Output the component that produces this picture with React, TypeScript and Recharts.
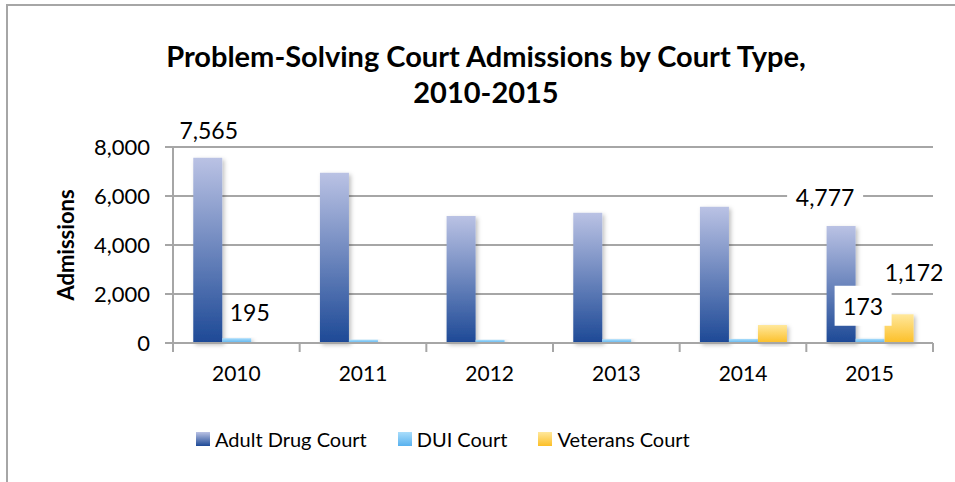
import React from 'react';
import { BarChart, Bar, XAxis, YAxis, CartesianGrid, Legend, LabelList } from 'recharts';

const YEARS = ['2010', '2011', '2012', '2013', '2014', '2015'];
const ADULT_DRUG = [7565, 6950, 5185, 5320, 5565, 4777];
const DUI = [195, 135, 130, 155, 165, 173];
const VETERANS = [0, 0, 0, 0, 735, 1172];
const Y_TICKS = [0, 2000, 4000, 6000, 8000];

const FONT = 'Lato, "Open Sans", sans-serif';
const GRID = '#a6a6a6';

const SERIES = [
  { key: 'adult', name: 'Adult Drug Court', grad: 'gAdult', top: '#bac2e4', bottom: '#1d4996' },
  { key: 'dui', name: 'DUI Court', grad: 'gDui', top: '#a9ddfb', bottom: '#58b1ee' },
  { key: 'vet', name: 'Veterans Court', grad: 'gVet', top: '#ffe89c', bottom: '#fcbf27' },
];

const chartData = YEARS.map((year, i) => ({
  year,
  adult: ADULT_DRUG[i],
  dui: DUI[i],
  vet: VETERANS[i],
}));

const fmt = (v: number) => v.toLocaleString('en-US');

// hand-placed data labels, like the original: year index -> [dx, dy, boxW]
const makeLabel = (values: number[], spots: Record<number, [number, number, number]>) => (props: any) => {
  const { x, y, width, value } = props;
  const key = Object.keys(spots).map(Number).find((i) => values[i] === value);
  if (key === undefined) return null;
  const [dx, dy, boxW] = spots[key];
  const cx = x + width / 2 + dx;
  const cy = y + dy;
  return (
    <g>
      {boxW > 0 && <rect x={cx - boxW / 2} y={cy - 20} width={boxW} height={40} fill="#fff" />}
      <text x={cx} y={cy} textAnchor="middle" dominantBaseline="central" fontSize={23} fontFamily={FONT} fill="#000">
        {fmt(value)}
      </text>
    </g>
  );
};

const BAND = 760 / YEARS.length;

const XTick = (props: any) => {
  const { x, y, payload, index } = props;
  return (
    <g>
      <line x1={x - BAND / 2} x2={x - BAND / 2} y1={y} y2={y + 9} stroke={GRID} strokeWidth={2} />
      {index === YEARS.length - 1 && (
        <line x1={x + BAND / 2} x2={x + BAND / 2} y1={y} y2={y + 9} stroke={GRID} strokeWidth={2} />
      )}
      <text x={x} y={y + 38} textAnchor="middle" fontSize={21} fontFamily={FONT} fill="#000">
        {payload.value}
      </text>
    </g>
  );
};

const LegendContent = () => (
  <div style={{ display: 'flex', alignItems: 'center', fontFamily: FONT, fontSize: 20, color: '#000' }}>
    {SERIES.map((s) => (
      <div key={s.key} style={{ display: 'flex', alignItems: 'center', marginRight: 31 }}>
        <svg width={14} height={14} style={{ marginRight: 5 }}>
          <rect width={14} height={14} fill={`url(#${s.grad})`} />
        </svg>
        <span>{s.name}</span>
      </div>
    ))}
  </div>
);

export default function App() {
  return (
    <div style={{ position: 'absolute', top: 0, left: 0, width: 955, height: 482, background: '#fff', overflow: 'hidden' }}>
      <div style={{ position: 'absolute', left: 6, top: 4, width: 960, height: 490, borderLeft: `2px solid ${GRID}`, borderTop: `2px solid ${GRID}` }} />
      <div
        style={{
          position: 'absolute', left: 60, top: 38, width: 852, textAlign: 'center',
          fontFamily: FONT, fontWeight: 'bold', fontSize: 29, lineHeight: '36px', color: '#000',
        }}
      >
        Problem-Solving Court Admissions by Court Type,
        <br />
        2010-2015
      </div>
      <BarChart
        width={955}
        height={482}
        data={chartData}
        margin={{ top: 147, right: 22, left: 0, bottom: 99 }}
        barCategoryGap="16%"
        barGap={0}
        style={{ position: 'absolute', top: 0, left: 0 }}
      >
        <defs>
          {SERIES.map((s) => (
            <linearGradient key={s.grad} id={s.grad} x1="0" y1="0" x2="0" y2="1">
              <stop offset="0%" stopColor={s.top} />
              <stop offset="100%" stopColor={s.bottom} />
            </linearGradient>
          ))}
          <filter id="barShadow" x="-20%" y="-20%" width="150%" height="140%">
            <feDropShadow dx="2" dy="2" stdDeviation="2" floodColor="#000" floodOpacity="0.25" />
          </filter>
        </defs>
        <CartesianGrid vertical={false} stroke={GRID} strokeWidth={2} />
        <XAxis
          dataKey="year"
          height={40}
          axisLine={{ stroke: GRID, strokeWidth: 2 }}
          tickLine={false}
          tickSize={0}
          tickMargin={0}
          tick={<XTick />}
          interval={0}
        />
        <YAxis
          width={173}
          domain={[0, 8000]}
          ticks={Y_TICKS}
          tickFormatter={fmt}
          axisLine={{ stroke: GRID, strokeWidth: 2 }}
          tickLine={{ stroke: GRID, strokeWidth: 2 }}
          tickSize={8}
          tickMargin={15}
          tick={{ fontSize: 22, fontFamily: FONT, fill: '#000' }}
          label={{
            content: (p: any) => {
              const vb = p.viewBox;
              const cx = 65;
              const cy = vb.y + vb.height / 2;
              return (
                <text
                  x={cx} y={cy} transform={`rotate(-90, ${cx}, ${cy})`}
                  textAnchor="middle" dominantBaseline="central"
                  fontSize={22} fontWeight="bold" fontFamily={FONT} fill="#000"
                >
                  Admissions
                </text>
              );
            },
          }}
        />
        <Legend
          verticalAlign="middle"
          align="center"
          wrapperStyle={{ top: 427, left: 196, width: 'auto' }}
          content={<LegendContent />}
        />
        <Bar dataKey="adult" name="Adult Drug Court" fill="url(#gAdult)" filter="url(#barShadow)" isAnimationActive={false}>
          <LabelList content={makeLabel(ADULT_DRUG, { 0: [1, -28, 0], 5: [-16, -29, 76] })} />
        </Bar>
        <Bar dataKey="dui" name="DUI Court" fill="url(#gDui)" filter="url(#barShadow)" isAnimationActive={false}>
          <LabelList content={makeLabel(DUI, { 0: [13, -26, 0], 5: [-7, -33, 57] })} />
        </Bar>
        <Bar dataKey="vet" name="Veterans Court" fill="url(#gVet)" filter="url(#barShadow)" isAnimationActive={false}>
          <LabelList content={makeLabel(VETERANS, { 5: [15, -42, 0] })} />
        </Bar>
      </BarChart>
    </div>
  );
}
